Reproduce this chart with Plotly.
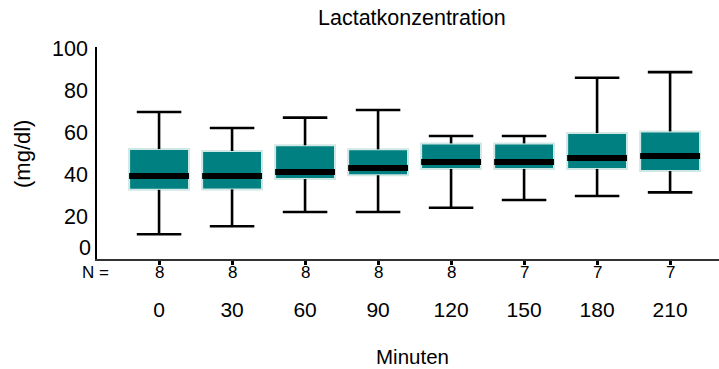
import plotly.graph_objects as go

# Lactate concentration (mg/dl) over time, summary statistics per time point
minutes = ["0", "30", "60", "90", "120", "150", "180", "210"]
n_counts = [8, 8, 8, 8, 8, 7, 7, 7]
lower_whisker = [11.7, 15.5, 22.3, 22.3, 24.3, 28.0, 29.9, 31.6]
q1 = [32.8, 33.0, 37.9, 39.7, 42.7, 42.7, 42.7, 41.7]
median = [39.3, 39.3, 41.2, 43.1, 46.0, 46.0, 47.9, 48.8]
q3 = [52.1, 51.2, 53.9, 52.0, 54.8, 54.8, 59.7, 60.5]
upper_whisker = [69.7, 62.1, 67.0, 70.6, 58.3, 58.3, 85.9, 88.6]

y_tick_vals = [20, 40, 60, 80, 100]
y_tick_text = ["20", "40", "60", "80", "100"]

FONT = "Arial, Liberation Sans, sans-serif"
TEAL = "#008080"
EDGE = "#cfe8e6"
BOX_HALF = 0.41
CAP_HALF = 0.305

# plot area in pixels (used to place free text in paper coordinates)
L, R, T, B = 97, 719, 47, 259
PW, PH = R - L, B - T


def px(xp):
    return (xp - L) / PW


def py(yp):
    return (B - yp) / PH


pos = list(range(len(minutes)))

# whisker stems and caps
wx, wy = [], []
for i in pos:
    wx += [i, i, None, i, i, None,
           i - CAP_HALF, i + CAP_HALF, None, i - CAP_HALF, i + CAP_HALF, None]
    wy += [lower_whisker[i], q1[i], None, q3[i], upper_whisker[i], None,
           lower_whisker[i], lower_whisker[i], None, upper_whisker[i], upper_whisker[i], None]

# median bands
mx, my = [], []
for i in pos:
    mx += [i - BOX_HALF, i + BOX_HALF, None]
    my += [median[i], median[i], None]

fig = go.Figure()
fig.add_trace(go.Scatter(x=wx, y=wy, mode="lines",
                         line=dict(color="black", width=2.6),
                         hoverinfo="skip", showlegend=False))
fig.add_trace(go.Bar(x=pos, y=[b - a for a, b in zip(q1, q3)], base=q1,
                     width=2 * BOX_HALF,
                     marker=dict(color=TEAL, line=dict(color=EDGE, width=2)),
                     showlegend=False))
fig.add_trace(go.Scatter(x=mx, y=my, mode="lines",
                         line=dict(color="black", width=6),
                         hoverinfo="skip", showlegend=False))

fig.update_layout(
    width=719, height=369,
    margin=dict(l=L, r=719 - R, t=T, b=369 - B),
    paper_bgcolor="white", plot_bgcolor="white",
    font=dict(family=FONT, color="black", size=21),
    xaxis=dict(range=[-0.85, 7.67], tickvals=pos, ticktext=minutes,
               ticks="outside", ticklen=4, tickwidth=3, tickcolor="black",
               showline=True, linecolor="#333333", linewidth=2,
               showgrid=False, zeroline=False, ticklabelstandoff=27,
               tickfont=dict(size=21)),
    yaxis=dict(range=[0, 100.5], tickvals=y_tick_vals, ticktext=y_tick_text,
               ticks="", showline=True, linecolor="black", linewidth=1.5,
               showgrid=False, zeroline=False, ticklabelstandoff=3,
               tickfont=dict(size=21.5)),
    showlegend=False,
)

# title, axis titles, N row and the zero label
fig.add_annotation(text="Lactatkonzentration", xref="paper", yref="paper",
                   x=px(411.5), y=py(18), yanchor="middle",
                   showarrow=False, font=dict(size=21.5))
fig.add_annotation(text="Minuten", xref="paper", yref="paper",
                   x=px(412.5), y=py(356), yanchor="middle",
                   showarrow=False, font=dict(size=20.5))
fig.add_annotation(text="(mg/dl)", xref="paper", yref="paper", textangle=-90,
                   x=px(22), y=py(154), xanchor="center",
                   yanchor="middle", showarrow=False, font=dict(size=22))
fig.add_annotation(text="0", xref="paper", yref="y", x=0, y=0, xanchor="right",
                   yanchor="middle", xshift=-4, yshift=11, showarrow=False,
                   font=dict(size=21.5))
fig.add_annotation(text="N =", xref="paper", yref="paper", x=px(111),
                   y=py(272), xanchor="right", yanchor="middle",
                   showarrow=False, font=dict(size=17))
for i, n in zip(pos, n_counts):
    fig.add_annotation(text=str(n), x=i, xref="x", y=py(272),
                       yref="paper", yanchor="middle", showarrow=False,
                       font=dict(size=17))

fig.write_html("out.html")
